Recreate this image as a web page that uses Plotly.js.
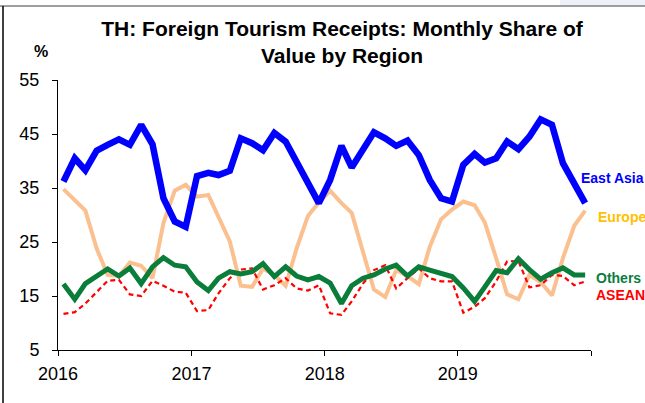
<!DOCTYPE html>
<html>
<head>
<meta charset="utf-8">
<script src="https://cdn.plot.ly/plotly-3.0.1.min.js"></script>
<style>
  html, body { margin: 0; padding: 0; background: #ffffff; }
  #chart { width: 645px; height: 403px; }
</style>
</head>
<body>
<div id="chart"></div>
<script>
// ---- Data (monthly share of value, %) ----
var years = [2016, 2017, 2018, 2019];
var monthNums = ["01","02","03","04","05","06","07","08","09","10","11","12"];

var eastAsia = [36.2, 40.5, 38.3, 41.9, 43.0, 44.0, 43.0, 46.7, 43.1, 33.1, 28.8, 27.8,
                37.2, 37.8, 37.4, 38.2, 44.2, 43.3, 42.0, 45.2, 43.6, 39.9, 36.2, 32.2,
                36.5, 42.8, 38.8, 42.2, 45.3, 44.2, 42.8, 43.8, 41.1, 36.5, 33.1, 32.5,
                39.3, 41.3, 39.7, 40.5, 43.6, 42.2, 44.5, 47.7, 46.7, 39.6, 35.6, 32.2];

var europe   = [34.8, 32.8, 30.8, 23.8, 18.9, 18.7, 21.2, 20.6, 18.3, 28.5, 34.5, 35.6,
                33.4, 33.7, 29.7, 25.1, 16.9, 16.7, 20.1, 18.9, 16.9, 23.8, 29.8, 32.3,
                34.5, 32.2, 30.4, 23.5, 16.2, 14.8, 19.8, 18.7, 17.2, 24.1, 29.2, 31.0,
                32.5, 31.8, 28.6, 22.0, 15.3, 14.4, 18.9, 17.6, 15.1, 22.0, 28.0, 30.8];

var others   = [17.2, 14.4, 17.3, 18.7, 20.0, 18.7, 20.2, 17.3, 20.4, 22.1, 20.7, 20.4,
                17.6, 16.0, 18.3, 19.5, 19.1, 19.5, 21.0, 18.6, 20.4, 18.7, 18.0, 18.6,
                17.4, 13.6, 16.9, 18.3, 18.9, 20.0, 20.7, 18.7, 20.4, 19.8, 19.3, 18.6,
                16.5, 14.0, 16.7, 19.7, 19.3, 21.9, 19.9, 18.1, 19.3, 20.2, 18.9, 18.9];

var asean    = [11.7, 12.0, 13.6, 15.8, 17.8, 18.0, 15.3, 15.0, 17.8, 16.9, 15.8, 15.6,
                12.2, 12.4, 15.5, 18.3, 19.9, 20.1, 16.2, 17.0, 18.3, 16.4, 16.0, 17.0,
                11.8, 11.5, 14.0, 17.3, 19.8, 20.7, 16.4, 18.3, 20.1, 18.3, 17.7, 17.7,
                11.9, 13.0, 14.6, 17.7, 21.4, 21.5, 16.6, 17.0, 18.9, 18.7, 17.0, 17.7];

var xTickVals  = ["2016-01-01", "2017-01-01", "2018-01-01", "2019-01-01", "2020-01-01"];
var xTickText  = ["2016", "2017", "2018", "2019", ""];
var yTickVals  = [5, 15, 25, 35, 45, 55];

// month categories (mid-month dates)
var months = [];
years.forEach(function (y) {
  monthNums.forEach(function (m) { months.push(y + "-" + m + "-16"); });
});

var FONT = "Arial, 'Liberation Sans', sans-serif";

var traces = [
  { x: months, y: europe, type: "scatter", mode: "lines", name: "Europe",
    line: { color: "#FAC090", width: 4 }, hoverinfo: "skip" },
  { x: months, y: asean, type: "scatter", mode: "lines", name: "ASEAN",
    line: { color: "#FF0000", width: 2.2, dash: "5px,3.5px" }, hoverinfo: "skip" },
  { x: months, y: others, type: "scatter", mode: "lines", name: "Others",
    line: { color: "#0A7D3A", width: 5 }, hoverinfo: "skip" },
  { x: months, y: eastAsia, type: "scatter", mode: "lines", name: "East Asia",
    line: { color: "#0000FF", width: 6.5 }, hoverinfo: "skip" }
];

// pixel -> paper helpers for plot area l=58, r=591, t=80, b=350
function px(x) { return (x - 58) / 533; }
function py(y) { return (350 - y) / 270; }

var layout = {
  width: 645, height: 403,
  margin: { l: 58, r: 54, t: 80, b: 53 },
  paper_bgcolor: "#ffffff",
  plot_bgcolor: "#ffffff",
  showlegend: false,
  font: { family: FONT, color: "#000000" },
  title: {
    text: "<b>TH: Foreign Tourism Receipts: Monthly Share of<br>Value by Region</b>",
    font: { family: FONT, size: 21, color: "#000000" },
    xref: "container", x: 342 / 645, xanchor: "center",
    yref: "container", y: 1 - 36 / 403, yanchor: "top"
  },
  xaxis: {
    type: "date",
    range: ["2016-01-01", "2020-01-01"],
    tickmode: "array", tickvals: xTickVals, ticktext: xTickText,
    ticks: "outside", ticklen: 5, tickwidth: 1, tickcolor: "#000000",
    showline: true, linecolor: "#000000", linewidth: 1,
    showgrid: false, zeroline: false,
    tickfont: { family: FONT, size: 18, color: "#000000" },
    ticklabelstandoff: 2,
    fixedrange: true
  },
  yaxis: {
    range: [5, 55],
    tickmode: "array", tickvals: yTickVals,
    ticks: "outside", ticklen: 5, tickwidth: 1, tickcolor: "#000000",
    showline: true, linecolor: "#000000", linewidth: 1,
    showgrid: false, zeroline: false,
    tickfont: { family: FONT, size: 18, color: "#000000" },
    ticklabelstandoff: 9,
    fixedrange: true
  },
  annotations: [
    { text: "<b>%</b>", xref: "paper", yref: "paper", x: px(41), y: py(51),
      xanchor: "center", yanchor: "middle", showarrow: false,
      font: { family: FONT, size: 16, color: "#000000" } },
    { text: "<b>East Asia</b>", xref: "paper", yref: "paper", x: px(579), y: py(178),
      xanchor: "left", yanchor: "middle", showarrow: false,
      font: { family: FONT, size: 14, color: "#0000FF" } },
    { text: "<b>Europe</b>", xref: "paper", yref: "paper", x: px(596), y: py(217),
      xanchor: "left", yanchor: "middle", showarrow: false,
      font: { family: FONT, size: 14, color: "#FFC000" } },
    { text: "<b>Others</b>", xref: "paper", yref: "paper", x: px(594), y: py(278),
      xanchor: "left", yanchor: "middle", showarrow: false,
      font: { family: FONT, size: 14, color: "#0A7D3A" } },
    { text: "<b>ASEAN</b>", xref: "paper", yref: "paper", x: px(594), y: py(295),
      xanchor: "left", yanchor: "middle", showarrow: false,
      font: { family: FONT, size: 14, color: "#FF0000" } }
  ],
  shapes: [
    { type: "rect", xref: "paper", yref: "paper", layer: "below",
      x0: px(560), x1: px(645), y0: py(6), y1: py(0),
      fillcolor: "#EEF1F8", line: { width: 0 } },
    { type: "line", xref: "paper", yref: "paper",
      x0: px(0), x1: px(645), y0: py(6), y1: py(6),
      line: { color: "#7F7F7F", width: 1.5 } },
    { type: "line", xref: "paper", yref: "paper",
      x0: px(3), x1: px(3), y0: py(6), y1: py(403),
      line: { color: "#000000", width: 1.5 } }
  ]
};

Plotly.newPlot("chart", traces, layout, { staticPlot: true, displayModeBar: false });
</script>
</body>
</html>
